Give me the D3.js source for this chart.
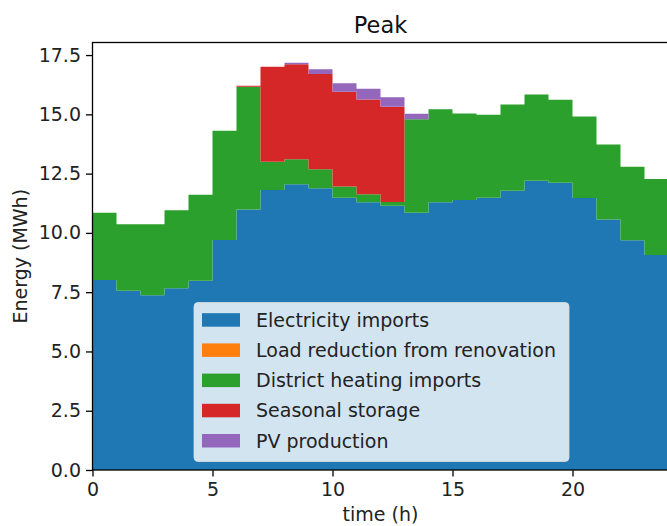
<!DOCTYPE html>
<html>
<head>
<meta charset="utf-8">
<script src="https://cdn.jsdelivr.net/npm/d3@7"></script>
<style>
  html, body { margin: 0; padding: 0; background: #fff; }
  svg { display: block; font-family: "DejaVu Sans", sans-serif; }
</style>
</head>
<body>
<svg id="chart" width="667" height="526"></svg>
<script>
// Hourly energy supply on the peak day (MWh), one value per hour 0..23
const hours = [0,1,2,3,4,5,6,7,8,9,10,11,12,13,14,15,16,17,18,19,20,21,22,23];
const electricityImports = [8.01,7.56,7.37,7.67,7.98,9.70,10.99,11.81,12.05,11.88,11.48,11.29,11.15,10.85,11.29,11.39,11.48,11.78,12.20,12.12,11.47,10.57,9.69,9.07];
const loadReduction = [0,0,0,0,0,0,0,0,0,0,0,0,0,0,0,0,0,0,0,0,0,0,0,0];
const districtHeating = [2.84,2.80,2.99,3.29,3.63,4.61,5.17,1.19,1.06,0.80,0.48,0.34,0.15,3.94,3.92,3.65,3.50,3.64,3.64,3.50,3.44,3.16,3.10,3.20];
const seasonalStorage = [0,0,0,0,0,0,0.05,4.01,4.00,4.02,3.99,4.00,4.02,0,0,0,0,0,0,0,0,0,0,0];
const pvProduction = [0,0,0,0,0,0,0,0,0.07,0.20,0.36,0.45,0.40,0.24,0,0,0,0,0,0,0,0,0,0];

const seriesNames = ["Electricity imports", "Load reduction from renovation", "District heating imports", "Seasonal storage", "PV production"];
const seriesColors = ["#1f77b4", "#ff7f0e", "#2ca02c", "#d62728", "#9467bd"];
const seriesValues = [electricityImports, loadReduction, districtHeating, seasonalStorage, pvProduction];

const xTicks = [0, 5, 10, 15, 20];
const yTicks = [0, 2.5, 5, 7.5, 10, 12.5, 15, 17.5];

const svg = d3.select("#chart");
const margin = { left: 92.5, right: 668.5, top: 42.5, bottom: 470 };

const x = d3.scaleLinear().domain([0, 24]).range([margin.left, margin.right]);
const y = d3.scaleLinear().domain([0, 18.03]).range([margin.bottom, margin.top]);

// Rows for stacking; a closing row at hour 24 holds the last step open to the axis end
const rows = hours.map((h, i) => {
  const r = { hour: h };
  seriesNames.forEach((n, k) => r[n] = seriesValues[k][i]);
  return r;
});
const closing = Object.assign({}, rows[rows.length - 1], { hour: 24 });
const stackRows = rows.concat([closing]);

const stacked = d3.stack().keys(seriesNames)(stackRows);

const area = d3.area()
  .curve(d3.curveStepAfter)
  .x(d => x(d.data.hour))
  .y0(d => y(d[0]))
  .y1(d => y(d[1]));

const plot = svg.append("g");
plot.selectAll("path.layer")
  .data(stacked)
  .join("path")
  .attr("class", "layer")
  .attr("fill", (d, i) => seriesColors[i])
  .attr("d", area);

// Axes
const axisFont = 19;
const xAxis = svg.append("g")
  .attr("transform", `translate(0,${margin.bottom})`)
  .call(d3.axisBottom(x).tickValues(xTicks).tickFormat(d3.format("d")).tickSize(6.5).tickPadding(5));
const yAxis = svg.append("g")
  .attr("transform", `translate(${margin.left},0)`)
  .call(d3.axisLeft(y).tickValues(yTicks).tickFormat(d3.format(".1f")).tickSize(6.5).tickPadding(5));

[xAxis, yAxis].forEach(g => {
  g.select(".domain").remove();
  g.selectAll(".tick line").attr("stroke", "#000").attr("stroke-width", 1.3);
  g.selectAll(".tick text").attr("fill", "#222").style("font-size", axisFont + "px")
    .style("font-family", "'DejaVu Sans', sans-serif");
});
xAxis.selectAll(".tick text").attr("dy", "0.75em");

// Frame of the plotting area
svg.append("rect")
  .attr("x", margin.left).attr("y", margin.top)
  .attr("width", margin.right - margin.left).attr("height", margin.bottom - margin.top)
  .attr("fill", "none").attr("stroke", "#000").attr("stroke-width", 1.3);

// Title and axis labels
svg.append("text")
  .attr("x", (margin.left + margin.right) / 2).attr("y", 33)
  .attr("text-anchor", "middle").style("font-size", "22.5px").attr("fill", "#111")
  .text("Peak");
svg.append("text")
  .attr("x", (margin.left + margin.right) / 2).attr("y", 521)
  .attr("text-anchor", "middle").style("font-size", axisFont + "px").attr("fill", "#222")
  .text("time (h)");
svg.append("text")
  .attr("transform", `translate(27,${(margin.top + margin.bottom) / 2}) rotate(-90)`)
  .attr("text-anchor", "middle").style("font-size", axisFont + "px").attr("fill", "#222")
  .text("Energy (MWh)");

// Legend
const legend = svg.append("g").attr("transform", "translate(194,302.5)");
legend.append("rect")
  .attr("width", 375).attr("height", 159).attr("rx", 4).attr("ry", 4)
  .attr("fill", "#fff").attr("fill-opacity", 0.8)
  .attr("stroke", "#ddd").attr("stroke-opacity", 0.8).attr("stroke-width", 1);
const items = legend.selectAll("g.item")
  .data(seriesNames)
  .join("g")
  .attr("class", "item")
  .attr("transform", (d, i) => `translate(0,${17.5 + i * 30.2})`);
items.append("rect")
  .attr("x", 8).attr("y", -6.8).attr("width", 38).attr("height", 13.5)
  .attr("fill", (d, i) => seriesColors[i]);
items.append("text")
  .attr("x", 62).attr("y", 0).attr("dy", "0.36em")
  .style("font-size", axisFont + "px").attr("fill", "#222")
  .text(d => d);
</script>
</body>
</html>
